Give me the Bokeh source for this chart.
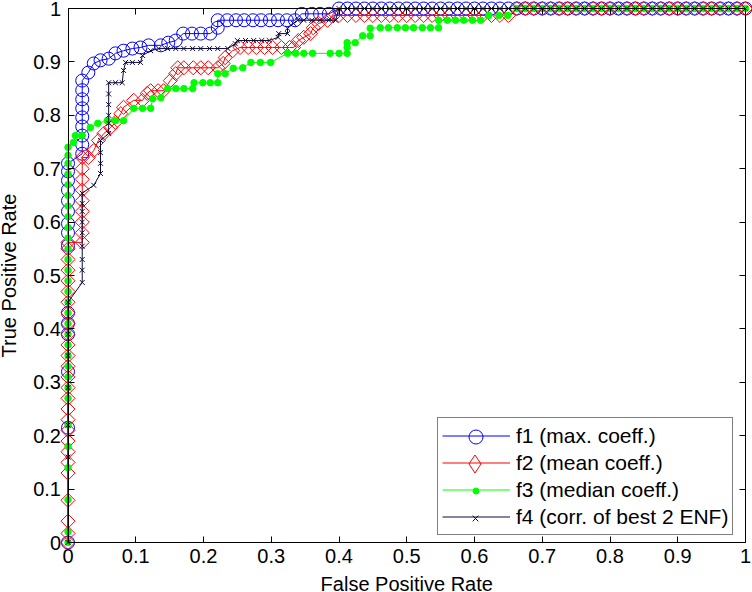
import math

from bokeh.plotting import figure
from bokeh.models import Range1d, FixedTicker, LinearAxis, Legend, LegendItem, Label
from bokeh.embed import file_html
from bokeh.resources import INLINE

# ---------------------------------------------------------------- data
TICKS = [0.0, 0.1, 0.2, 0.3, 0.4, 0.5, 0.6, 0.7, 0.8, 0.9, 1.0]
TICK_LABELS = ["0", "0.1", "0.2", "0.3", "0.4", "0.5", "0.6", "0.7", "0.8", "0.9", "1"]

X_TITLE = "False Positive Rate"
Y_TITLE = "True Positive Rate"
SERIES_NAMES = ["f1 (max. coeff.)", "f2 (mean coeff.)",
                "f3 (median coeff.)", "f4 (corr. of best 2 ENF)"]

# false-positive steps shared by every curve once it runs along the top
TOP_FPR = [0.4, 0.4125, 0.425, 0.4375, 0.45, 0.4625, 0.475, 0.4875, 0.5, 0.5125,
           0.525, 0.5375, 0.55, 0.5625, 0.575, 0.5875, 0.6, 0.6125, 0.625, 0.6375,
           0.65, 0.6625, 0.675, 0.6875, 0.7, 0.7125, 0.725, 0.7375, 0.75, 0.7625,
           0.775, 0.7875, 0.8, 0.8125, 0.825, 0.8375, 0.85, 0.8625, 0.875, 0.8875,
           0.9, 0.9125, 0.925, 0.9375, 0.95, 0.9625, 0.975, 0.9875, 1.0]

# f1: max. coeff.
F1_FPR = ([0.0, 0.0, 0.0, 0.0, 0.0, 0.0, 0.0, 0.0, 0.0, 0.0, 0.0, 0.0, 0.0, 0.0, 0.0,
           0.021, 0.021, 0.021, 0.021, 0.021, 0.021, 0.021, 0.021, 0.021,
           0.030, 0.038, 0.048, 0.06, 0.07, 0.082, 0.095, 0.107, 0.119, 0.137,
           0.148, 0.159, 0.17, 0.183, 0.196, 0.21, 0.221, 0.221, 0.235, 0.248,
           0.26, 0.273, 0.285, 0.298, 0.31, 0.323, 0.335, 0.345, 0.36, 0.372, 0.385]
          + TOP_FPR)
F1_TPR = ([0.0, 0.215, 0.32, 0.39, 0.41, 0.43, 0.556, 0.58, 0.597, 0.62, 0.64, 0.66,
           0.678, 0.695, 0.71,
           0.728, 0.745, 0.762, 0.779, 0.796, 0.813, 0.83, 0.847, 0.865,
           0.88, 0.897, 0.903, 0.906, 0.916, 0.921, 0.925, 0.927, 0.931, 0.931,
           0.936, 0.94, 0.953, 0.953, 0.953, 0.953, 0.964, 0.978, 0.978, 0.978,
           0.978, 0.978, 0.978, 0.978, 0.978, 0.978, 0.978, 0.99, 0.99, 0.99, 0.99]
          + [1.0] * 49)

# f2: mean coeff.
F2_FPR = ([0.0] * 27
          + [0.021, 0.021, 0.021, 0.021, 0.021, 0.021, 0.021, 0.021, 0.021,
             0.030, 0.038, 0.045, 0.053, 0.063, 0.07, 0.078, 0.082, 0.097, 0.11,
             0.117, 0.122, 0.133, 0.141, 0.151, 0.159, 0.162, 0.171, 0.185, 0.196,
             0.207, 0.221, 0.229, 0.232, 0.243, 0.254, 0.266, 0.278, 0.29, 0.302,
             0.315, 0.327, 0.333, 0.34, 0.348, 0.358, 0.362, 0.37, 0.383, 0.392]
          + TOP_FPR)
F2_TPR = ([0.0, 0.017, 0.04, 0.079, 0.13, 0.15, 0.17, 0.19, 0.21, 0.23, 0.25, 0.27,
           0.29, 0.31, 0.33, 0.35, 0.37, 0.39, 0.41, 0.43, 0.45, 0.47, 0.49, 0.51,
           0.53, 0.55, 0.562,
           0.562, 0.58, 0.6, 0.62, 0.64, 0.66, 0.68, 0.70, 0.721,
           0.721, 0.734, 0.753, 0.766, 0.777, 0.787, 0.803, 0.815, 0.828, 0.828,
           0.841, 0.846, 0.846, 0.846, 0.865, 0.878, 0.889, 0.889, 0.889, 0.889,
           0.889, 0.889, 0.897, 0.908, 0.921, 0.927, 0.927, 0.927, 0.927, 0.927,
           0.927, 0.927, 0.927, 0.94, 0.946, 0.953, 0.964, 0.972, 0.978, 0.987]
          + [0.987] * 21 + [1.0] * 28)

# f3: median coeff.
F3_FPR = ([0.0] * 31
          + [0.008, 0.011, 0.021, 0.033, 0.044, 0.058, 0.07, 0.082, 0.097, 0.11,
             0.122, 0.125, 0.137, 0.147, 0.159, 0.171, 0.184, 0.186, 0.199, 0.21,
             0.221, 0.221, 0.232, 0.244, 0.258, 0.27, 0.284, 0.299, 0.324, 0.336,
             0.348, 0.361, 0.387, 0.4, 0.412, 0.412, 0.412, 0.424, 0.435, 0.446,
             0.446, 0.461, 0.473, 0.486, 0.498, 0.51, 0.523, 0.535, 0.547, 0.547,
             0.56, 0.572, 0.584, 0.597, 0.609, 0.621, 0.636, 0.649]
          + TOP_FPR[21:])
F3_TPR = ([0.0, 0.02, 0.08, 0.14, 0.18, 0.22, 0.27, 0.29, 0.31, 0.33, 0.35, 0.37,
           0.39, 0.41, 0.43, 0.45, 0.47, 0.49, 0.51, 0.53, 0.55, 0.57, 0.59, 0.61,
           0.63, 0.65, 0.67, 0.69, 0.71, 0.725, 0.74,
           0.749, 0.762, 0.762, 0.777, 0.785, 0.79, 0.79, 0.79, 0.813, 0.813,
           0.813, 0.831, 0.833, 0.85, 0.85, 0.85, 0.85, 0.861, 0.861, 0.861,
           0.861, 0.878, 0.878, 0.888, 0.889, 0.899, 0.899, 0.899, 0.916, 0.916,
           0.916, 0.916, 0.916, 0.916, 0.916, 0.927, 0.936, 0.936, 0.949, 0.949,
           0.963, 0.964, 0.964, 0.964, 0.964, 0.964, 0.964, 0.964, 0.964, 0.978,
           0.978, 0.978, 0.978, 0.978, 0.978, 0.987, 0.987, 0.987]
          + [1.0] * 28)

# f4: corr. of best 2 ENF
F4_FPR = ([0.0, 0.0, 0.0, 0.0, 0.0, 0.0, 0.0,
           0.021, 0.021, 0.021, 0.021, 0.021, 0.021, 0.021, 0.021, 0.021,
           0.038, 0.048, 0.048, 0.048, 0.048, 0.06, 0.06, 0.06, 0.06, 0.06, 0.06,
           0.07, 0.08, 0.082, 0.085, 0.095, 0.107, 0.11, 0.122, 0.134, 0.147,
           0.159, 0.171, 0.184, 0.196, 0.209, 0.221, 0.236, 0.247, 0.25, 0.262,
           0.274, 0.286, 0.297, 0.31, 0.311, 0.324, 0.324, 0.333, 0.339, 0.348,
           0.36, 0.372, 0.385, 0.395]
          + TOP_FPR)
F4_TPR = ([0.0, 0.16, 0.22, 0.29, 0.35, 0.39, 0.45,
           0.487, 0.51, 0.53, 0.555, 0.58, 0.6, 0.62, 0.635, 0.654,
           0.669, 0.691, 0.71, 0.73, 0.753, 0.766, 0.785, 0.8, 0.82, 0.84, 0.861,
           0.861, 0.861, 0.884, 0.899, 0.899, 0.899, 0.912, 0.921, 0.925, 0.925,
           0.925, 0.925, 0.925, 0.925, 0.925, 0.925, 0.925, 0.934, 0.94, 0.94,
           0.94, 0.94, 0.94, 0.946, 0.953, 0.953, 0.963, 0.972, 0.978, 0.978,
           0.978, 0.978, 0.978, 0.978]
          + [1.0] * 49)

# ---------------------------------------------------------------- layout
W, H = 752, 592
# pixel position of the axes box (x 0..1, y 0..1); the frame fills the whole
# canvas so that edge markers, tick numbers and titles are never clipped
BOX_LEFT, BOX_RIGHT, BOX_TOP, BOX_BOTTOM = 67.5, 745.0, 8.0, 542.0

x_scale = BOX_RIGHT - BOX_LEFT
y_scale = BOX_BOTTOM - BOX_TOP
x_start = -BOX_LEFT / x_scale
x_end = 1 + (W - BOX_RIGHT) / x_scale
y_start = -(H - BOX_BOTTOM) / y_scale
y_end = 1 + BOX_TOP / y_scale

FONT = "Liberation Sans"
TICK_SIZE = "20px"
LEGEND_SIZE = "21px"
BLUE, RED, GREEN, NAVY = "#0000ff", "#ff0000", "#00ff00", "#0b0b3b"

p = figure(width=W, height=H, output_backend="svg", toolbar_location=None,
           x_range=Range1d(x_start, x_end), y_range=Range1d(y_start, y_end),
           x_axis_location=None, y_axis_location=None,
           min_border_left=0, min_border_right=0,
           min_border_top=0, min_border_bottom=0)
p.grid.visible = False
p.outline_line_color = None
p.background_fill_color = "white"
p.border_fill_color = "white"

overrides = {t: s for t, s in zip(TICKS, TICK_LABELS)}


def box_axis(at, side, labelled, standoff=0):
    """An axis pinned to one edge of the unit box, ticks pointing inwards."""
    ax = LinearAxis(fixed_location=at, bounds=(0, 1),
                    ticker=FixedTicker(ticks=TICKS),
                    major_label_overrides=overrides,
                    major_tick_in=6, major_tick_out=0,
                    minor_tick_line_color=None,
                    axis_line_color="black", axis_line_width=1,
                    major_tick_line_color="black",
                    major_label_text_font=FONT,
                    major_label_standoff=standoff)
    if labelled:
        ax.major_label_text_color = "black"
        ax.major_label_text_font_size = TICK_SIZE
    else:
        ax.major_label_text_color = None
        ax.major_label_text_font_size = "0px"
    p.add_layout(ax, side)


box_axis(0, "below", True, standoff=6)
box_axis(0, "left", True, standoff=7)
box_axis(1, "above", False)
box_axis(1, "right", False)

# axis titles, in pixels from the lower-left corner of the canvas
p.add_layout(Label(x=(BOX_LEFT + BOX_RIGHT) / 2, y=9, x_units="screen",
                   y_units="screen", text=X_TITLE, text_font=FONT,
                   text_font_size=TICK_SIZE, text_color="black",
                   text_align="center", text_baseline="alphabetic"))
p.add_layout(Label(x=8, y=H - (BOX_TOP + BOX_BOTTOM) / 2, x_units="screen",
                   y_units="screen", text=Y_TITLE, text_font=FONT,
                   text_font_size=TICK_SIZE, text_color="black",
                   text_align="center", text_baseline="alphabetic",
                   angle=math.pi / 2))

# ---------------------------------------------------------------- curves
l1 = p.line(F1_FPR, F1_TPR, line_color=BLUE, line_width=1)
s1 = p.scatter(F1_FPR, F1_TPR, marker="circle", size=13, fill_color=None,
               line_color=BLUE, line_width=1)

l2 = p.line(F2_FPR, F2_TPR, line_color=RED, line_width=1)
s2 = p.scatter(F2_FPR, F2_TPR, marker="square", angle=math.pi / 4, size=10,
               fill_color=None, line_color=RED, line_width=1)

l3 = p.line(F3_FPR, F3_TPR, line_color=GREEN, line_width=1)
s3 = p.scatter(F3_FPR, F3_TPR, marker="circle", size=6.5, fill_color=GREEN,
               line_color=GREEN, line_width=1)

l4 = p.line(F4_FPR, F4_TPR, line_color=NAVY, line_width=1)
s4 = p.scatter(F4_FPR, F4_TPR, marker="x", size=7, line_color=NAVY, line_width=1)

# the legend draws its key marker upright, so f2 gets an upright diamond key
key_f2 = p.scatter(x=[math.nan], y=[math.nan], marker="diamond", fill_color=None,
                   line_color=RED, line_width=1)

# legend box, in pixels from the lower-left corner of the canvas
LEG_X = 437
LEG_Y = H - 535
LEG_PAD, KEY_W, ROW_H = 4, 68, 27

legend = Legend(
    items=[LegendItem(label=SERIES_NAMES[0], renderers=[l1]),
           LegendItem(label=SERIES_NAMES[1], renderers=[l2]),
           LegendItem(label=SERIES_NAMES[2], renderers=[l3]),
           LegendItem(label=SERIES_NAMES[3], renderers=[l4])],
    location=(LEG_X, LEG_Y),
    orientation="vertical",
    border_line_color="black", border_line_width=1,
    background_fill_color="white", background_fill_alpha=1.0,
    label_text_font=FONT, label_text_font_size=LEGEND_SIZE,
    label_text_color="black",
    glyph_width=KEY_W, glyph_height=ROW_H, label_height=ROW_H,
    label_standoff=6, padding=LEG_PAD, spacing=0, margin=0,
)
p.add_layout(legend)

# marker keys sit on top of the line keys; a legend marker is 0.4 of its box,
# so each key gets its own box
key_cx = LEG_X + LEG_PAD + KEY_W / 2
marker_keys = [(s1, 35), (key_f2, 45), (s3, 15), (s4, 20)]
for row, (rend, box) in enumerate(marker_keys):
    cy = LEG_Y + LEG_PAD + ROW_H * (3 - row) + ROW_H / 2
    key_legend = Legend(
        items=[LegendItem(label=" ", renderers=[rend])],
        location=(round(key_cx - box / 2), round(cy - box / 2)),
        border_line_color=None, background_fill_alpha=0.0,
        label_text_color=None, label_text_font_size="1px",
        glyph_width=box, glyph_height=box, label_height=box, label_width=0,
        label_standoff=0, padding=0, spacing=0, margin=0,
    )
    p.add_layout(key_legend)

open("out.html", "w").write(file_html(p, INLINE))
